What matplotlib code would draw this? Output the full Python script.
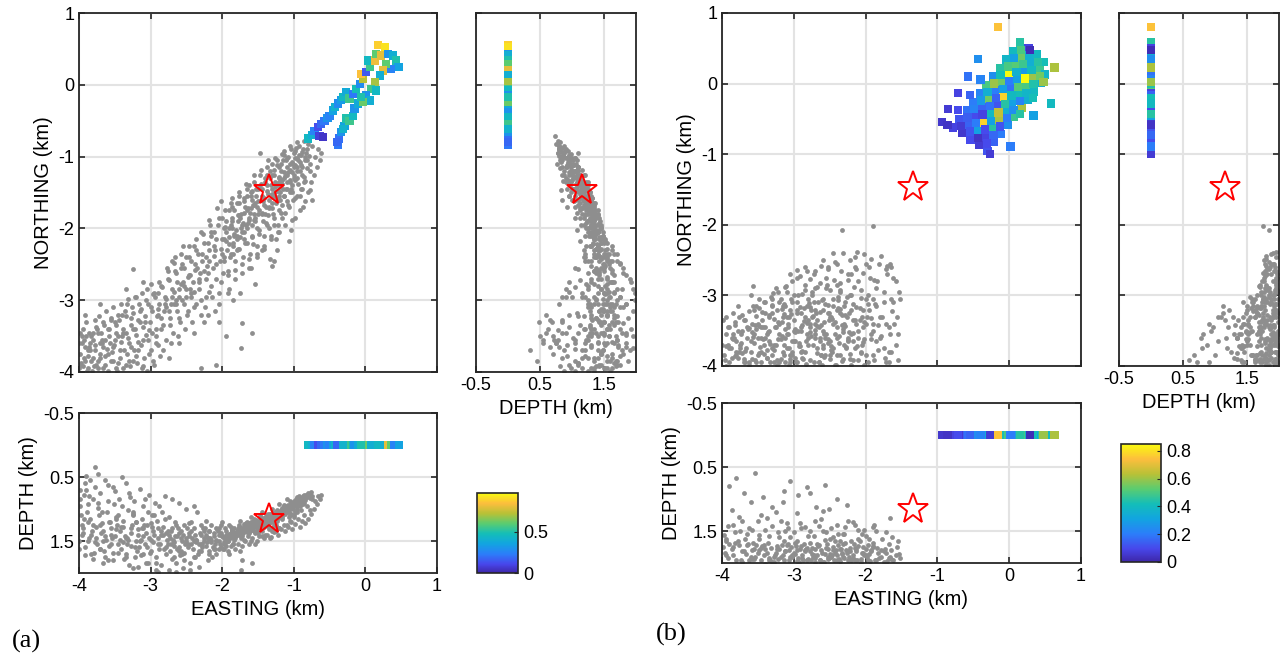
import numpy as np
import matplotlib
matplotlib.use("Agg")
import matplotlib.pyplot as plt
from matplotlib.colors import LinearSegmentedColormap

plt.rcParams['font.family'] = ['Liberation Sans', 'DejaVu Sans']
plt.rcParams['axes.unicode_minus'] = False

# ---- data: (easting, northing, depth) in km ----
# panel (a) seismicity, dense part near the star
core_a = [(-0.80,-0.82,0.75),(-0.83,-0.95,0.78),(-0.85,-1.05,0.82),(-0.87,-0.90,0.80),(-0.88,-1.15,0.84),
          (-0.90,-0.98,0.86),(-0.92,-1.20,0.88),(-0.94,-1.05,0.83),(-0.95,-1.30,0.90),(-0.97,-0.88,0.85),
          (-0.98,-1.12,0.92),(-1.00,-1.25,0.95),(-1.00,-0.95,0.88),(-1.02,-1.40,0.97),(-1.03,-1.08,0.93),
          (-1.05,-1.18,0.98),(-1.06,-1.32,1.00),(-1.08,-1.00,0.94),(-1.09,-1.45,1.02),(-1.10,-1.15,0.99),
          (-1.12,-1.27,1.03),(-1.13,-1.55,1.05),(-1.15,-1.05,0.98),(-1.16,-1.38,1.06),(-1.18,-1.20,1.04),
          (-1.19,-1.60,1.09),(-1.20,-1.30,1.07),(-1.22,-1.48,1.10),(-1.23,-1.12,1.03),(-1.25,-1.65,1.13),
          (-1.26,-1.35,1.09),(-1.28,-1.25,1.08),(-1.29,-1.55,1.14),(-1.30,-1.72,1.16),(-1.32,-1.40,1.12),
          (-1.33,-1.20,1.08),(-1.35,-1.60,1.17),(-1.36,-1.82,1.20),(-1.38,-1.48,1.15),(-1.40,-1.30,1.12),
          (-1.41,-1.68,1.19),(-1.43,-1.90,1.23),(-1.45,-1.55,1.18),(-1.46,-1.38,1.15),(-1.48,-1.75,1.22),
          (-1.50,-1.62,1.20),(-1.52,-2.00,1.27),(-1.53,-1.45,1.17),(-1.55,-1.80,1.25),(-1.57,-1.68,1.22),
          (-1.58,-2.10,1.30),(-1.60,-1.55,1.20),(-1.62,-1.88,1.28),(-1.64,-1.72,1.25),(-1.65,-2.20,1.33),
          (-1.67,-1.95,1.30),(-1.70,-1.62,1.24),(-1.72,-2.05,1.33),(-1.74,-1.80,1.29),(-1.76,-2.28,1.37),
          (-1.78,-1.90,1.32),(-1.80,-2.15,1.36),(-1.83,-1.75,1.30),(-1.85,-2.35,1.40),(-1.87,-2.00,1.35),
          (-1.90,-2.22,1.39),(-0.75,-1.60,0.85),(-0.78,-1.10,0.76),(-0.86,-1.35,0.90),(-0.90,-1.45,0.92),
          (-0.93,-0.85,0.80),(-0.96,-1.55,0.96),(-1.01,-1.60,1.00),(-1.04,-0.90,0.90),(-1.07,-1.70,1.05),
          (-1.11,-1.45,1.02),(-1.14,-0.98,0.95),(-1.17,-1.85,1.12),(-1.21,-1.75,1.12),(-1.24,-1.05,1.02),
          (-1.27,-1.95,1.18),(-1.31,-1.10,1.06),(-1.34,-2.00,1.22),(-1.37,-1.15,1.10),(-1.42,-2.10,1.26),
          (-1.47,-1.25,1.13),(-1.51,-2.25,1.30),(-1.56,-1.35,1.16),(-1.61,-2.35,1.35),(-1.66,-1.45,1.20),
          (-1.71,-2.40,1.38),(-1.77,-1.55,1.25),(-1.82,-2.45,1.42),(-1.88,-1.65,1.28),(-0.99,-1.02,0.90),
          (-1.06,-1.10,0.97),(-1.13,-1.22,1.02),(-1.19,-1.42,1.08),(-1.26,-1.50,1.12),(-1.39,-1.70,1.18),
          (-1.44,-1.45,1.14),(-1.54,-1.90,1.26),(-1.59,-1.60,1.21),(-1.69,-1.78,1.27),(-1.79,-2.10,1.34),
          (-1.86,-1.85,1.33),(-1.10,-1.35,1.25),(-1.20,-1.55,1.30),(-1.30,-1.65,1.35),(-1.40,-1.80,1.40),
          (-0.95,-1.20,1.05),(-1.05,-1.50,1.18)]
core2_a = [(-0.76,-0.71,0.74),(-0.79,-0.99,0.80),(-0.81,-1.16,0.82),(-0.84,-1.34,0.86),(-0.77,-1.47,0.83),
           (-0.86,-0.78,0.78),(-0.88,-0.93,0.85),(-0.91,-1.08,0.83),(-0.89,-1.26,0.88),(-0.92,-1.55,0.95),
           (-0.87,-1.70,0.92),(-0.96,-0.80,0.82),(-0.98,-0.92,0.89),(-1.01,-1.10,0.94),(-0.99,-1.33,0.93),
           (-1.02,-1.50,0.98),(-0.98,-1.85,1.05),(-1.04,-2.02,1.08),(-1.06,-0.85,0.88),(-1.08,-1.22,0.99),
           (-1.11,-1.05,0.96),(-1.09,-1.62,1.03),(-1.12,-1.78,1.08),(-1.07,-2.17,1.12),(-1.13,-0.92,0.93),
           (-1.16,-0.96,0.98),(-1.18,-1.10,1.02),(-1.21,-1.28,1.05),(-1.19,-1.50,1.07),(-1.22,-1.95,1.14),
           (-1.17,-1.68,1.10),(-1.24,-2.30,1.18),(-1.26,-1.02,1.04),(-1.28,-1.18,1.08),(-1.31,-1.52,1.12),
           (-1.29,-1.80,1.15),(-1.32,-2.10,1.20),(-1.27,-2.45,1.25),(-1.30,-2.52,1.30),(-1.36,-1.05,1.08),
           (-1.38,-1.25,1.12),(-1.41,-1.58,1.17),(-1.39,-1.92,1.22),(-1.42,-2.25,1.28),(-1.37,-1.40,1.14),
           (-1.46,-1.18,1.15),(-1.48,-1.42,1.19),(-1.51,-1.70,1.22),(-1.49,-2.08,1.28),(-1.52,-2.40,1.34),
           (-1.47,-0.95,1.10),(-1.53,-1.55,1.24),(-1.56,-1.25,1.20),(-1.58,-1.48,1.24),(-1.61,-1.78,1.27),
           (-1.59,-1.95,1.30),(-1.62,-2.55,1.38),(-1.57,-2.22,1.33),(-1.63,-1.40,1.22),(-1.66,-1.55,1.25),
           (-1.68,-1.70,1.30),(-1.71,-1.92,1.33),(-1.69,-2.15,1.35),(-1.72,-2.62,1.42),(-1.67,-1.38,1.22),
           (-1.76,-1.65,1.30),(-1.78,-1.82,1.34),(-1.81,-2.02,1.38),(-1.79,-2.30,1.41),(-1.82,-2.70,1.46),
           (-1.77,-1.50,1.28),(-1.86,-1.70,1.34),(-1.88,-1.95,1.38),(-1.91,-2.12,1.42),(-1.89,-2.40,1.45),
           (-1.92,-2.90,1.50),(-1.87,-1.58,1.32),(-0.82,-0.90,0.79),(-0.85,-1.00,0.83),(-0.93,-0.98,0.86),
           (-0.95,-1.15,0.90),(-1.03,-1.22,0.95),(-1.05,-1.35,0.99),(-1.14,-1.30,1.01),(-1.15,-1.45,1.04),
           (-1.23,-1.38,1.08),(-1.25,-1.58,1.12),(-1.33,-1.30,1.10),(-1.35,-1.72,1.16),(-1.43,-1.62,1.18),
           (-1.44,-1.80,1.20),(-1.54,-1.65,1.22),(-1.55,-1.88,1.26),(-1.63,-1.85,1.28),(-1.65,-2.00,1.31),
           (-1.73,-1.95,1.32),(-1.75,-2.12,1.35),(-1.84,-2.08,1.38),(-1.85,-2.25,1.40),(-1.93,-2.30,1.44),
           (-1.94,-2.05,1.40),(-1.10,-1.25,0.85),(-1.20,-1.35,0.92),(-1.30,-1.45,1.00),(-1.45,-1.60,1.05),
           (-1.60,-1.72,1.12),(-1.75,-1.85,1.18),(-1.90,-2.00,1.25),(-1.00,-1.15,1.10),(-1.25,-1.40,1.25),
           (-1.50,-1.80,1.38),(-1.70,-2.05,1.48),(-1.85,-2.20,1.55)]
# deeper half of the band near the star
core3_a = [(-0.62,-0.95,0.78),(-0.64,-1.05,0.85),(-0.66,-0.90,0.80),(-0.68,-1.15,0.92),(-0.70,-1.00,0.88),
           (-0.72,-1.25,1.00),(-0.74,-0.85,0.80),(-0.76,-1.35,1.08),(-0.78,-1.20,1.02),(-0.80,-1.50,1.15),
           (-0.82,-1.05,0.95),(-0.84,-1.62,1.22),(-0.86,-1.28,1.10),(-0.88,-1.45,1.18),(-0.90,-1.12,1.02),
           (-0.92,-1.75,1.28),(-0.94,-1.38,1.15),(-0.96,-1.02,1.00),(-0.98,-1.58,1.24),(-1.00,-1.30,1.12),
           (-1.02,-1.88,1.32),(-1.04,-1.45,1.20),(-1.06,-1.20,1.10),(-1.08,-1.68,1.28),(-1.10,-1.02,1.05),
           (-1.12,-1.95,1.35),(-1.14,-1.55,1.25),(-1.16,-1.32,1.16),(-1.18,-1.78,1.32),(-1.20,-1.15,1.10),
           (-1.22,-2.05,1.40),(-1.24,-1.62,1.30),(-1.26,-1.42,1.22),(-1.28,-1.85,1.36),(-1.30,-1.25,1.18),
           (-1.32,-2.15,1.44),(-1.34,-1.70,1.32),(-1.36,-1.52,1.26),(-1.38,-1.95,1.40),(-1.40,-1.35,1.22),
           (-1.42,-2.28,1.46),(-1.44,-1.78,1.35),(-1.46,-1.60,1.30),(-1.48,-2.02,1.42),(-1.50,-1.45,1.25),
           (-1.52,-2.35,1.50),(-1.54,-1.85,1.38),(-1.56,-1.68,1.34),(-1.58,-2.12,1.46),(-1.60,-1.50,1.28),
           (-1.62,-2.42,1.55),(-1.64,-1.92,1.42),(-1.66,-1.75,1.36),(-1.68,-2.20,1.50),(-1.70,-1.58,1.32),
           (-1.72,-2.50,1.58),(-1.74,-2.00,1.45),(-1.76,-1.82,1.40),(-1.78,-2.28,1.54),(-1.80,-1.65,1.36),
           (-1.82,-2.58,1.62),(-1.84,-2.10,1.48),(-1.86,-1.90,1.44),(-1.88,-2.35,1.58),(-1.90,-1.75,1.40),
           (-1.92,-2.65,1.66),(-1.94,-2.18,1.52),(-1.96,-1.98,1.46),(-1.98,-2.45,1.62),(-2.00,-1.85,1.42)]
mid_a = [(-1.92,-2.60,1.50),(-1.95,-1.90,1.35),(-1.97,-2.40,1.55),(-2.00,-2.15,1.42),(-2.02,-2.75,1.60),
         (-2.05,-1.85,1.30),(-2.08,-2.50,1.48),(-2.10,-2.30,1.62),(-2.12,-2.05,1.38),(-2.15,-2.80,1.52),
         (-2.18,-2.45,1.70),(-2.20,-2.20,1.45),(-2.23,-2.95,1.58),(-2.25,-2.60,1.35),(-2.28,-2.35,1.55),
         (-2.30,-2.05,1.40),(-2.33,-2.75,1.65),(-2.36,-3.05,1.48),(-2.38,-2.50,1.75),(-2.40,-2.25,1.30),
         (-2.43,-2.90,1.55),(-2.46,-2.65,1.42),(-2.48,-3.15,1.60),(-2.50,-2.40,1.50),(-2.53,-2.80,1.25),
         (-2.56,-3.00,1.70),(-2.58,-2.55,1.45),(-2.60,-3.25,1.38),(-2.63,-2.75,1.62),(-2.66,-2.40,1.20),
         (-2.68,-3.05,1.52),(-2.70,-2.85,1.78),(-2.73,-3.35,1.45),(-2.76,-2.60,1.35),(-2.78,-3.10,1.60),
         (-2.80,-2.95,1.15),(-2.18,-1.88,1.35),(-2.55,-2.25,1.40),(-2.70,-2.45,1.30),(-1.33,-2.42,1.45),
         (-1.45,-2.30,1.42),(-1.54,-2.77,1.55),(-1.60,-2.55,1.50),(-1.25,-2.15,1.35),(-1.20,-2.05,1.30),
         (-1.75,-2.90,1.65),(-1.85,-3.00,1.55),(-1.90,-2.85,1.70),(-2.05,-3.30,1.62),(-1.95,-3.50,1.58),
         (-2.20,-3.20,1.45),(-2.45,-2.85,1.95),(-2.65,-3.00,1.98)]
mid2_a = [(-1.96,-1.75,1.30),(-1.98,-2.00,1.45),(-2.01,-2.28,1.38),(-2.03,-2.45,1.55),(-1.99,-2.62,1.62),
          (-2.04,-2.90,1.50),(-2.02,-1.62,1.25),(-1.97,-2.15,1.52),(-2.05,-3.05,1.40),(-2.00,-2.35,1.20),
          (-2.06,-1.95,1.35),(-2.08,-2.15,1.50),(-2.11,-2.38,1.42),(-2.13,-2.55,1.60),(-2.09,-2.70,1.30),
          (-2.14,-2.95,1.75),(-2.07,-1.72,1.32),(-2.12,-2.25,1.62),(-2.10,-3.15,1.55),(-2.15,-2.05,1.25),
          (-2.16,-2.10,1.48),(-2.18,-2.30,1.35),(-2.21,-2.52,1.52),(-2.23,-2.70,1.40),(-2.19,-2.88,1.65),
          (-2.24,-3.10,1.30),(-2.17,-1.95,1.45),(-2.22,-2.40,1.18),(-2.20,-2.62,1.80),(-2.25,-3.30,1.50),
          (-2.26,-2.20,1.45),(-2.28,-2.45,1.60),(-2.31,-2.62,1.38),(-2.33,-2.85,1.55),(-2.29,-3.00,1.25),
          (-2.34,-2.35,1.70),(-2.27,-2.08,1.30),(-2.32,-2.70,1.90),(-2.30,-3.20,1.65),(-2.35,-2.55,1.05),
          (-2.36,-2.30,1.52),(-2.38,-2.58,1.40),(-2.41,-2.75,1.62),(-2.43,-2.95,1.35),(-2.39,-3.10,1.75),
          (-2.44,-2.45,1.20),(-2.37,-2.15,1.48),(-2.42,-3.30,1.45),(-2.40,-2.88,0.95),(-2.45,-2.65,1.85),
          (-2.46,-2.40,1.38),(-2.48,-2.68,1.55),(-2.51,-2.85,1.45),(-2.53,-3.05,1.68),(-2.49,-3.20,1.30),
          (-2.54,-2.55,1.80),(-2.47,-2.25,1.22),(-2.52,-3.40,1.55),(-2.50,-2.95,1.00),(-2.55,-2.75,1.92),
          (-2.56,-2.50,1.50),(-2.58,-2.78,1.35),(-2.61,-2.95,1.60),(-2.63,-3.15,1.42),(-2.59,-3.30,1.72),
          (-2.64,-2.62,1.25),(-2.57,-2.35,1.65),(-2.62,-3.50,1.30),(-2.60,-2.85,0.90),(-2.65,-3.05,1.85),
          (-2.66,-2.60,1.42),(-2.68,-2.88,1.58),(-2.71,-3.05,1.35),(-2.73,-3.25,1.65),(-2.69,-3.45,1.48),
          (-2.74,-2.72,1.12),(-2.67,-2.48,1.75),(-2.72,-3.60,1.55),(-2.70,-2.95,0.85),(-2.75,-3.15,1.95),
          (-2.76,-2.70,1.55),(-2.78,-2.98,1.38),(-2.81,-3.15,1.62),(-2.83,-3.35,1.28),(-2.79,-3.55,1.70),
          (-2.84,-2.82,1.05),(-2.77,-2.55,1.48),(-2.82,-3.70,1.40),(-2.80,-3.05,0.80),(-2.85,-3.25,1.88)]
tail_a = [(-2.85,-3.40,1.35),(-2.88,-2.75,0.95),(-2.90,-3.20,1.55),(-2.93,-3.60,1.85),(-2.95,-2.90,1.40),
          (-2.98,-3.45,1.10),(-3.00,-3.10,1.65),(-3.02,-3.75,1.45),(-3.05,-2.85,1.25),(-3.08,-3.30,0.85),
          (-3.10,-3.55,1.70),(-3.12,-3.95,1.30),(-3.15,-3.15,1.50),(-3.18,-3.70,1.90),(-3.20,-2.95,1.20),
          (-3.22,-3.40,1.60),(-3.25,-3.85,1.05),(-3.28,-3.25,1.38),(-3.30,-3.60,0.75),(-3.33,-3.05,1.55),
          (-3.35,-3.90,1.75),(-3.38,-3.45,1.28),(-3.40,-3.20,0.95),(-3.43,-3.70,1.48),(-3.46,-3.50,1.68),
          (-3.48,-3.95,1.15),(-3.50,-3.30,1.42),(-3.53,-3.65,0.65),(-3.55,-3.85,1.55),(-3.58,-3.40,1.20),
          (-3.60,-3.75,1.80),(-3.63,-3.55,0.55),(-3.66,-3.95,1.35),(-3.68,-3.60,1.05),(-3.70,-3.80,1.62),
          (-3.73,-3.45,0.90),(-3.76,-3.90,1.45),(-3.78,-3.70,0.35),(-3.80,-3.55,1.25),(-3.83,-3.85,1.70),
          (-3.86,-3.65,0.80),(-3.88,-3.95,1.50),(-3.90,-3.50,0.70),(-3.93,-3.80,1.15),(-3.96,-3.60,1.40),
          (-3.98,-3.90,0.95),(-3.10,-2.75,1.30),(-3.24,-2.56,1.10),(-3.35,-2.85,1.45),(-3.92,-3.20,0.60),
          (-3.70,-3.05,1.25),(-2.60,-3.60,1.65),(-2.40,-3.45,1.50),(-2.75,-3.80,1.40),(-1.73,-3.32,1.80),
          (-1.58,-3.46,1.85),(-1.74,-3.66,1.95),(-2.08,-3.90,1.70),(-2.30,-3.95,1.55),(-2.90,-2.90,1.98)]
tail2_a = [(-2.86,-2.80,1.40),(-2.88,-3.05,1.62),(-2.91,-3.22,1.18),(-2.93,-3.40,1.75),(-2.89,-3.62,1.30),
           (-2.94,-2.95,0.90),(-2.87,-3.78,1.55),(-2.92,-3.50,1.95),(-2.90,-3.12,1.45),(-2.95,-3.90,1.10),
           (-2.96,-2.92,1.52),(-2.98,-3.15,1.28),(-3.01,-3.30,1.68),(-3.03,-3.55,1.05),(-2.99,-3.70,1.48),
           (-3.04,-3.05,1.85),(-2.97,-3.85,1.35),(-3.02,-3.42,0.78),(-3.00,-2.78,1.22),(-3.05,-3.98,1.60),
           (-3.06,-3.00,1.38),(-3.08,-3.22,1.55),(-3.11,-3.38,0.95),(-3.13,-3.62,1.72),(-3.09,-3.80,1.25),
           (-3.14,-3.12,1.48),(-3.07,-3.48,1.85),(-3.12,-2.90,1.15),(-3.10,-3.92,1.42),(-3.15,-3.30,0.68),
           (-3.16,-3.05,1.60),(-3.18,-3.28,1.32),(-3.21,-3.48,1.50),(-3.23,-3.70,0.88),(-3.19,-3.88,1.65),
           (-3.24,-3.18,1.08),(-3.17,-3.58,1.40),(-3.22,-2.95,1.75),(-3.20,-3.78,1.20),(-3.25,-3.40,1.92),
           (-3.26,-3.10,1.25),(-3.28,-3.35,1.58),(-3.31,-3.52,1.02),(-3.33,-3.75,1.45),(-3.29,-3.92,0.82),
           (-3.34,-3.22,1.70),(-3.27,-3.65,1.30),(-3.32,-2.98,1.48),(-3.30,-3.85,1.88),(-3.35,-3.45,0.60),
           (-3.36,-3.15,1.42),(-3.38,-3.40,1.18),(-3.41,-3.58,1.62),(-3.43,-3.80,1.35),(-3.39,-3.95,1.52),
           (-3.44,-3.28,0.85),(-3.37,-3.70,1.78),(-3.42,-3.05,1.28),(-3.40,-3.50,0.50),(-3.45,-3.88,1.10),
           (-3.46,-3.20,1.55),(-3.48,-3.45,1.32),(-3.51,-3.62,0.92),(-3.53,-3.85,1.68),(-3.49,-3.35,1.12),
           (-3.54,-3.72,1.45),(-3.47,-3.98,1.25),(-3.52,-3.10,1.80),(-3.50,-3.55,0.72),(-3.55,-3.28,1.40),
           (-3.56,-3.25,1.30),(-3.58,-3.50,1.58),(-3.61,-3.68,1.05),(-3.63,-3.90,1.42),(-3.59,-3.40,0.62),
           (-3.64,-3.78,1.75),(-3.57,-3.60,1.20),(-3.62,-3.15,1.48),(-3.60,-3.98,0.88),(-3.65,-3.35,1.65),
           (-3.66,-3.30,1.50),(-3.68,-3.55,1.22),(-3.71,-3.75,1.62),(-3.73,-3.95,0.98),(-3.69,-3.45,1.38),
           (-3.74,-3.85,0.45),(-3.67,-3.65,1.85),(-3.72,-3.22,1.10),(-3.70,-3.60,0.75),(-3.75,-3.40,1.55),
           (-3.76,-3.38,1.28),(-3.78,-3.62,1.52),(-3.81,-3.80,0.85),(-3.83,-3.50,1.40),(-3.79,-3.92,1.68),
           (-3.84,-3.70,1.15),(-3.77,-3.28,0.65),(-3.82,-3.98,1.35),(-3.80,-3.45,1.78),(-3.85,-3.60,0.55),
           (-3.86,-3.45,1.45),(-3.88,-3.70,1.20),(-3.91,-3.85,1.60),(-3.93,-3.55,0.78),(-3.89,-3.98,1.05),
           (-3.94,-3.40,1.30),(-3.87,-3.78,0.92),(-3.92,-3.65,1.72),(-3.90,-3.30,0.48),(-3.95,-3.92,1.38),
           (-3.96,-3.50,1.25),(-3.98,-3.75,0.70),(-4.00,-3.60,1.50),(-3.97,-3.88,1.10),(-3.99,-3.45,0.85),
           (-4.00,-3.95,1.62)]

# panel (a) injection points (easting, northing, value), all at depth 0
inj_a = [(-0.80,-0.75,0.45),(-0.75,-0.70,0.40),(-0.71,-0.64,0.25),(-0.64,-0.71,0.08),(-0.59,-0.73,0.05),
         (-0.66,-0.59,0.12),(-0.62,-0.55,0.18),(-0.57,-0.50,0.22),(-0.53,-0.46,0.30),(-0.50,-0.43,0.25),
         (-0.45,-0.36,0.35),(-0.42,-0.31,0.42),(-0.38,-0.26,0.28),(-0.34,-0.21,0.33),(-0.31,-0.17,0.45),
         (-0.27,-0.10,0.38),(-0.22,-0.19,0.55),(-0.17,-0.13,0.22),(-0.13,-0.06,0.48),(-0.08,0.01,0.28),
         (-0.03,0.08,0.72),(-0.06,0.15,0.85),(0.01,0.18,0.15),(0.06,0.25,0.55),(0.04,0.34,0.45),
         (0.13,0.34,0.82),(0.18,0.55,0.88),(0.27,0.52,0.92),(0.15,0.43,0.60),(0.22,0.41,0.80),
         (0.32,0.43,0.30),(0.39,0.41,0.40),(0.43,0.34,0.50),(0.46,0.25,0.35),(0.36,0.22,0.25),
         (0.29,0.29,0.60),(0.25,0.20,0.80),(0.20,0.13,0.40),(0.13,0.04,0.70),(0.08,-0.06,0.55),
         (0.15,-0.08,0.45),(0.01,-0.15,0.30),(0.06,-0.22,0.40),
         (-0.38,-0.84,0.22),(-0.37,-0.75,0.20),(-0.34,-0.66,0.30),(-0.29,-0.57,0.35),(-0.27,-0.47,0.50),
         (-0.22,-0.50,0.55),(-0.17,-0.43,0.45),(-0.15,-0.33,0.30),(-0.10,-0.26,0.38),(-0.03,-0.24,0.62),
         (-0.06,-0.17,0.50),(-0.40,-0.80,0.18),(-0.31,-0.62,0.42)]

# panel (b) seismicity
shallow_b = [(-3.54,-3.92,0.59),(-3.80,-3.85,0.67),(-3.90,-3.75,0.80),(-2.57,-3.60,0.78),(-2.82,-3.55,0.82),
             (-3.14,-3.70,0.87),(-3.43,-3.45,0.97),(-2.77,-3.40,0.91),(-2.94,-3.50,0.94),(-2.26,-3.30,1.09),
             (-3.86,-3.60,1.17),(-3.77,-3.30,1.28),(-2.69,-3.25,1.12),(-2.51,-3.35,1.15),(-3.31,-3.15,1.12),
             (-3.05,-3.95,0.72),(-3.60,-3.65,1.05),(-2.40,-3.85,1.00),(-3.25,-3.45,1.20),(-2.95,-3.20,1.22),
             (-3.70,-3.95,0.90),(-2.60,-3.75,1.18),(-3.45,-3.80,1.25),(-3.15,-3.30,1.05)]
middle_b = [(-1.66,-3.55,1.30),(-1.63,-3.22,1.59),(-1.53,-2.95,1.86),(-1.90,-3.40,1.44),(-3.97,-3.85,1.57),
            (-2.29,-3.10,1.44),(-3.95,-3.30,1.62),(-3.57,-2.86,1.68),(-3.85,-3.55,1.40),(-3.75,-3.70,1.50),
            (-3.65,-3.45,1.55),(-3.50,-3.60,1.35),(-3.40,-3.25,1.48),(-3.30,-3.75,1.42),(-3.20,-3.10,1.60),
            (-3.10,-3.55,1.38),(-3.00,-3.35,1.52),(-2.90,-3.80,1.45),(-2.80,-3.05,1.58),(-2.70,-3.60,1.35),
            (-2.60,-3.20,1.50),(-2.50,-3.90,1.62),(-2.40,-3.45,1.40),(-2.30,-3.70,1.55),(-2.20,-3.00,1.65),
            (-2.10,-3.50,1.48),(-2.00,-3.85,1.58),(-1.95,-3.20,1.62),(-3.62,-3.95,1.45),(-3.35,-3.50,1.58),
            (-3.05,-3.85,1.60),(-2.85,-3.30,1.44),(-2.55,-3.55,1.52),(-2.35,-3.25,1.66),(-2.15,-3.75,1.40),
            (-1.85,-3.65,1.50),(-3.78,-3.15,1.65),(-3.48,-3.05,1.62),(-3.18,-3.90,1.35),(-2.98,-3.65,1.68),
            (-2.65,-3.95,1.42),(-2.45,-3.15,1.60),(-2.25,-3.60,1.35),(-2.05,-3.30,1.55),
            (-3.92,-3.70,1.42),(-3.72,-3.82,1.35),(-3.58,-3.52,1.48),(-3.38,-3.88,1.30),(-3.22,-3.62,1.52),
            (-3.08,-3.40,1.45),(-2.92,-3.72,1.38),(-2.78,-3.52,1.50),(-2.62,-3.42,1.32),(-2.48,-3.72,1.46),
            (-2.32,-3.52,1.54),(-2.18,-3.35,1.36),(-2.02,-3.62,1.48),(-1.88,-3.92,1.40),(-1.72,-3.40,1.52),
            (-3.48,-3.18,1.56),(-3.12,-3.15,1.50),(-2.72,-3.10,1.58),(-2.38,-3.02,1.55),(-3.82,-3.42,1.52)]
deep_b = [(-1.89,-2.02,1.75),(-2.33,-2.07,1.85),(-1.78,-2.44,1.80),(-1.66,-2.55,1.90),(-1.67,-3.95,1.92),
          (-2.00,-2.55,1.78),(-2.15,-2.45,1.95),(-2.25,-2.70,1.82),(-2.40,-2.55,1.88),(-2.55,-2.75,1.76),
          (-2.70,-2.65,1.92),(-2.85,-2.85,1.80),(-2.95,-2.75,1.97),(-3.10,-2.95,1.72),(-3.25,-2.90,1.85),
          (-3.40,-3.10,1.78),(-3.55,-3.20,1.93),(-3.70,-3.35,1.82),(-3.85,-3.25,1.75),(-3.95,-3.55,1.88),
          (-3.80,-3.80,1.96),(-3.65,-3.60,1.72),(-3.50,-3.85,1.84),(-3.35,-3.65,1.95),(-3.20,-3.40,1.78),
          (-3.05,-3.20,1.90),(-2.90,-3.50,1.74),(-2.75,-3.30,1.86),(-2.60,-3.05,1.98),(-2.45,-3.40,1.80),
          (-2.30,-3.15,1.92),(-2.15,-3.35,1.76),(-2.00,-3.05,1.88),(-1.85,-2.90,1.95),(-1.75,-3.10,1.82),
          (-1.70,-2.70,1.97),(-3.45,-3.45,1.76),(-3.15,-3.80,1.88),(-2.95,-3.95,1.80),(-2.80,-3.70,1.94),
          (-2.65,-3.45,1.72),(-2.50,-3.65,1.86),(-2.35,-3.85,1.78),(-2.20,-3.55,1.96),(-2.05,-3.70,1.84),
          (-1.90,-3.85,1.74),(-3.60,-3.00,1.90),(-3.30,-3.25,1.98),(-3.00,-3.00,1.84),(-2.70,-2.90,1.78),
          (-2.40,-2.85,1.95),(-2.10,-2.80,1.73),(-1.95,-2.60,1.86),(-3.90,-3.95,1.70),(-3.72,-3.50,1.98),
          (-3.42,-3.70,1.72),(-3.12,-3.60,1.82),(-2.82,-3.15,1.76),(-2.52,-3.25,1.90),(-2.22,-3.90,1.82),
          (-2.62,-3.85,1.98),(-3.28,-3.95,1.90),(-3.58,-3.40,1.80),(-2.88,-3.88,1.88)]
deep2_b = [(-1.52,-3.05,1.92),(-1.56,-3.30,1.75),(-1.58,-3.70,1.88),(-1.55,-3.92,1.65),(-1.62,-2.75,1.95),
           (-1.65,-3.05,1.80),(-1.68,-3.45,1.70),(-1.64,-3.80,1.93),(-1.72,-2.62,1.85),(-1.74,-2.95,1.98),
           (-1.77,-3.30,1.62),(-1.79,-3.58,1.90),(-1.73,-3.88,1.78),(-1.82,-2.55,1.92),(-1.84,-2.80,1.76),
           (-1.87,-3.12,1.95),(-1.89,-3.50,1.68),(-1.83,-3.78,1.85),(-1.92,-2.48,1.80),(-1.94,-2.75,1.97),
           (-1.96,-3.00,1.72),(-1.98,-3.30,1.90),(-1.93,-3.62,1.82),(-1.97,-3.95,1.95),(-2.02,-2.42,1.88),
           (-2.04,-2.68,1.75),(-2.06,-2.92,1.93),(-2.08,-3.18,1.66),(-2.03,-3.45,1.85),(-2.07,-3.80,1.98),
           (-2.12,-2.38,1.95),(-2.14,-2.62,1.82),(-2.16,-2.88,1.70),(-2.18,-3.12,1.92),(-2.13,-3.40,1.78),
           (-2.17,-3.65,1.88),(-2.11,-3.92,1.62),(-2.22,-2.50,1.76),(-2.24,-2.78,1.95),(-2.26,-3.02,1.84),
           (-2.28,-3.28,1.68),(-2.23,-3.52,1.90),(-2.27,-3.75,1.80),(-2.21,-3.98,1.96),(-2.32,-2.40,1.90),
           (-2.34,-2.65,1.78),(-2.36,-2.92,1.97),(-2.38,-3.18,1.72),(-2.33,-3.42,1.86),(-2.37,-3.68,1.94),
           (-2.31,-3.90,1.70),(-2.42,-2.52,1.84),(-2.44,-2.78,1.96),(-2.46,-3.05,1.75),(-2.48,-3.30,1.90),
           (-2.43,-3.55,1.66),(-2.47,-3.80,1.88),(-2.41,-3.98,1.80),(-2.52,-2.60,1.93),(-2.54,-2.85,1.70),
           (-2.56,-3.12,1.86),(-2.58,-3.38,1.98),(-2.53,-3.62,1.78),(-2.57,-3.85,1.64),(-2.51,-3.25,1.92),
           (-2.62,-2.58,1.80),(-2.64,-2.82,1.95),(-2.66,-3.10,1.74),(-2.68,-3.35,1.88),(-2.63,-3.60,1.96),
           (-2.67,-3.82,1.70),(-2.61,-3.98,1.85),(-2.72,-2.70,1.88),(-2.74,-2.95,1.76),(-2.76,-3.20,1.95),
           (-2.78,-3.45,1.68),(-2.73,-3.70,1.90),(-2.77,-3.92,1.82),(-2.71,-3.55,1.98),(-2.82,-2.65,1.95),
           (-2.84,-2.92,1.82),(-2.86,-3.18,1.70),(-2.88,-3.42,1.92),(-2.83,-3.65,1.78),(-2.87,-3.90,1.96),
           (-2.92,-2.72,1.78),(-2.94,-3.00,1.92),(-2.96,-3.25,1.66),(-2.98,-3.48,1.86),(-2.93,-3.72,1.98),
           (-2.97,-3.95,1.74),(-3.02,-2.80,1.90),(-3.04,-3.05,1.75),(-3.06,-3.30,1.95),(-3.08,-3.55,1.70),
           (-3.03,-3.80,1.88),(-3.07,-3.98,1.80),(-3.12,-2.88,1.82),(-3.14,-3.12,1.96),(-3.16,-3.38,1.72),
           (-3.18,-3.62,1.90),(-3.13,-3.85,1.66),(-3.22,-2.95,1.94),(-3.24,-3.20,1.78),(-3.26,-3.45,1.88),
           (-3.28,-3.70,1.98),(-3.23,-3.92,1.74),(-3.32,-3.02,1.76),(-3.34,-3.28,1.92),(-3.36,-3.52,1.68),
           (-3.38,-3.78,1.85),(-3.33,-3.95,1.95),(-3.42,-3.10,1.88),(-3.44,-3.35,1.74),(-3.46,-3.60,1.96),
           (-3.48,-3.82,1.80),(-3.52,-3.15,1.72),(-3.54,-3.42,1.90),(-3.56,-3.68,1.78),(-3.58,-3.90,1.94),
           (-3.62,-3.22,1.95),(-3.64,-3.48,1.70),(-3.66,-3.75,1.86),(-3.68,-3.95,1.62),(-3.72,-3.28,1.82),
           (-3.74,-3.55,1.96),(-3.76,-3.80,1.72),(-3.82,-3.38,1.68),(-3.84,-3.62,1.88),(-3.86,-3.88,1.78),
           (-3.92,-3.45,1.92),(-3.94,-3.72,1.65),(-3.96,-3.92,1.85),(-3.98,-3.35,1.75)]
# deeper than 2 km: only seen in map view
deeper_b = [(-3.00,-3.50,2.10),(-2.90,-3.25,2.20),(-2.80,-3.60,2.05),(-2.70,-3.40,2.30),(-2.60,-3.70,2.15),
            (-2.50,-3.30,2.25),(-2.40,-3.60,2.08),(-2.30,-3.40,2.18),(-3.10,-3.75,2.12),(-3.20,-3.55,2.28),
            (-3.30,-3.85,2.05),(-3.40,-3.60,2.22),(-3.50,-3.40,2.10),(-3.60,-3.80,2.30),(-3.70,-3.90,2.15),
            (-3.80,-3.65,2.06),(-3.90,-3.45,2.20),(-2.95,-3.10,2.14),(-2.75,-3.00,2.06),(-2.55,-2.90,2.24),
            (-2.35,-2.95,2.12),(-2.20,-3.20,2.20),(-2.10,-3.60,2.08),(-2.00,-3.40,2.26),(-1.90,-3.05,2.14),
            (-1.80,-3.30,2.05),(-3.15,-3.15,2.18),(-3.35,-3.30,2.08),(-3.55,-3.55,2.25),(-3.75,-3.75,2.12),
            (-3.05,-3.90,2.22),(-2.85,-3.80,2.10),(-2.65,-3.95,2.28),(-2.45,-3.75,2.04),(-2.25,-3.65,2.16),
            (-3.25,-3.70,2.06),(-3.45,-3.95,2.18),(-2.70,-3.20,2.12),(-2.90,-3.45,2.27),(-3.10,-3.30,2.04),
            (-2.60,-3.50,2.20),(-2.40,-3.20,2.10),(-3.00,-3.65,2.16),(-2.80,-3.35,2.08),(-3.20,-3.95,2.24),
            (-2.50,-3.85,2.14),(-3.40,-3.45,2.02),(-2.15,-2.60,2.10),(-2.45,-2.40,2.20),(-2.60,-2.50,2.05),
            (-2.85,-2.60,2.15),(-3.05,-2.70,2.25),(-3.30,-3.05,2.12),(-1.70,-2.58,2.10),(-1.65,-2.60,2.20),
            (-1.58,-2.80,2.05),(-1.60,-3.40,2.15),(-1.75,-3.75,2.08),(-1.72,-3.95,2.02),(-4.00,-3.70,2.10),
            (-3.95,-4.00,2.20)]
deeper2_b = [(-2.22,-3.00,2.10),(-2.49,-2.93,2.22),(-2.61,-3.07,2.15),(-2.88,-2.98,2.30),(-3.02,-3.09,2.08),
             (-3.29,-2.96,2.18),(-2.07,-3.04,2.12),(-2.13,-3.16,2.25),(-2.38,-3.07,2.05),(-2.52,-3.13,2.18),
             (-2.79,-3.11,2.12),(-2.91,-3.17,2.28),(-3.18,-3.05,2.15),(-3.31,-3.14,2.06),(-1.97,-3.12,2.20),
             (-2.23,-3.25,2.14),(-2.36,-3.19,2.26),(-2.64,-3.23,2.08),(-2.77,-3.17,2.20),(-3.04,-3.27,2.12),
             (-3.17,-3.19,2.32),(-3.44,-3.23,2.10),(-2.03,-3.21,2.06),(-3.57,-3.15,2.22),(-2.08,-3.35,2.18),
             (-2.33,-3.28,2.08),(-2.47,-3.34,2.24),(-2.73,-3.29,2.14),(-2.86,-3.36,2.06),(-3.13,-3.27,2.22),
             (-3.27,-3.33,2.16),(-3.53,-3.29,2.28),(-1.92,-3.32,2.12),(-3.68,-3.35,2.08),(-2.28,-3.44,2.12),
             (-2.42,-3.37,2.28),(-2.68,-3.43,2.06),(-2.82,-3.39,2.20),(-3.08,-3.45,2.14),(-3.22,-3.37,2.08),
             (-3.48,-3.43,2.24),(-2.02,-3.38,2.16),(-3.63,-3.46,2.10),(-1.83,-3.42,2.22),(-2.17,-3.53,2.06),
             (-2.32,-3.47,2.22),(-2.58,-3.55,2.14),(-2.71,-3.49,2.30),(-2.98,-3.52,2.10),(-3.12,-3.47,2.18),
             (-3.38,-3.55,2.06),(-3.52,-3.48,2.26),(-1.93,-3.54,2.12),(-3.78,-3.51,2.16),(-2.24,-3.63,2.20),
             (-2.37,-3.57,2.10),(-2.63,-3.64,2.28),(-2.76,-3.58,2.14),(-3.03,-3.65,2.06),(-3.17,-3.57,2.24),
             (-3.43,-3.62,2.12),(-3.57,-3.59,2.18),(-2.04,-3.66,2.08),(-3.83,-3.61,2.26),(-2.27,-3.73,2.14),
             (-2.53,-3.67,2.06),(-2.67,-3.74,2.22),(-2.93,-3.68,2.12),(-3.07,-3.75,2.28),(-3.33,-3.69,2.10),
             (-3.47,-3.73,2.18),(-3.73,-3.67,2.08),(-2.12,-3.71,2.24),(-3.88,-3.75,2.14),(-2.22,-3.83,2.10),
             (-2.48,-3.77,2.26),(-2.62,-3.84,2.12),(-2.88,-3.79,2.06),(-3.02,-3.85,2.20),(-3.28,-3.78,2.16),
             (-3.42,-3.83,2.28),(-3.68,-3.79,2.08),(-2.07,-3.82,2.18),(-3.82,-3.86,2.12),(-2.33,-3.93,2.22),
             (-2.58,-3.87,2.08),(-2.72,-3.94,2.16),(-2.98,-3.89,2.26),(-3.12,-3.95,2.12),(-3.38,-3.88,2.06),
             (-3.52,-3.94,2.20),(-3.78,-3.89,2.14),(-2.18,-3.91,2.10),(-2.43,-3.99,2.18),(-2.83,-3.97,2.10),
             (-3.23,-3.99,2.24),(-3.62,-3.98,2.12),(-2.02,-3.99,2.06),(-2.20,-2.70,2.12),(-2.53,-2.62,2.20),
             (-2.78,-2.77,2.08),(-3.11,-2.86,2.16),(-1.88,-2.78,2.24),(-2.36,-2.83,2.06),(-2.67,-2.88,2.28),
             (-2.96,-2.64,2.14),(-1.62,-3.10,2.12),(-1.55,-3.55,2.20),(-1.80,-3.60,2.08),(-1.68,-3.80,2.16),
             (-1.85,-3.15,2.26)]

# panel (b) injection points (easting, northing, value)
inj_b = [(-0.78,-0.62,0.08),(-0.66,-0.70,0.05),(-0.54,-0.79,0.10),(-0.42,-0.87,0.06),(-0.30,-0.95,0.12),
         (-0.69,-0.50,0.12),(-0.57,-0.58,0.15),(-0.45,-0.67,0.30),(-0.33,-0.75,0.08),(-0.21,-0.83,0.15),
         (-0.59,-0.38,0.18),(-0.47,-0.46,0.10),(-0.35,-0.55,0.78),(-0.23,-0.63,0.45),(-0.11,-0.71,0.20),
         (-0.50,-0.26,0.20),(-0.38,-0.34,0.15),(-0.26,-0.43,0.40),(-0.14,-0.51,0.62),(-0.02,-0.59,0.25),
         (-0.41,-0.14,0.22),(-0.29,-0.22,0.55),(-0.17,-0.31,0.12),(-0.05,-0.39,0.35),(0.07,-0.47,0.48),
         (-0.32,-0.02,0.50),(-0.20,-0.10,0.20),(-0.08,-0.19,0.78),(0.04,-0.27,0.30),(0.17,-0.35,0.62),
         (-0.22,0.10,0.25),(-0.10,0.02,0.55),(0.02,-0.07,0.18),(0.14,-0.15,0.42),(0.26,-0.23,0.35),
         (-0.13,0.22,0.45),(-0.01,0.14,0.85),(0.11,0.06,0.30),(0.23,-0.03,0.50),(0.35,-0.11,0.40),
         (-0.04,0.34,0.38),(0.08,0.26,0.52),(0.20,0.18,0.28),(0.32,0.09,0.60),(0.44,0.01,0.35),
         (0.06,0.46,0.40),(0.18,0.38,0.55),(0.30,0.30,0.35),(0.42,0.21,0.48),(0.50,0.13,0.38),
         (0.15,0.58,0.45),(0.27,0.50,0.08),(0.39,0.42,0.40),(0.48,0.31,0.42),
         (-0.67,-0.60,0.06),(-0.55,-0.68,0.12),(-0.43,-0.77,0.04),(-0.31,-0.85,0.10),
         (-0.58,-0.48,0.14),(-0.46,-0.56,0.20),(-0.34,-0.65,0.10),(-0.22,-0.73,0.16),
         (-0.49,-0.36,0.22),(-0.37,-0.44,0.08),(-0.25,-0.53,0.30),(-0.13,-0.61,0.12),
         (-0.39,-0.24,0.28),(-0.27,-0.32,0.18),(-0.15,-0.41,0.65),(-0.03,-0.49,0.20),
         (-0.30,-0.12,0.35),(-0.18,-0.20,0.15),(-0.06,-0.29,0.45),(0.06,-0.37,0.25),
         (-0.21,0.00,0.60),(-0.09,-0.08,0.30),(0.03,-0.17,0.40),(0.15,-0.25,0.22),
         (-0.12,0.12,0.42),(0.00,0.04,0.20),(0.12,-0.05,0.52),(0.24,-0.13,0.38),
         (-0.02,0.24,0.50),(0.10,0.16,0.36),(0.22,0.07,0.85),(0.34,-0.01,0.44),
         (0.07,0.36,0.30),(0.19,0.28,0.48),(0.31,0.19,0.40),(0.43,0.11,0.55),
         (0.16,0.48,0.50),(0.28,0.40,0.36),(0.40,0.31,0.45),
         (-0.16,0.80,0.75),(-0.43,0.35,0.25),(-0.57,0.10,0.18),(-0.40,0.06,0.22),(-0.71,-0.13,0.08),
         (-0.55,-0.16,0.15),(-0.85,-0.36,0.06),(-0.71,-0.37,0.10),(-0.94,-0.54,0.05),(-0.86,-0.59,0.04),
         (-0.27,-1.00,0.06),(0.02,-0.89,0.20),(0.34,-0.45,0.30),(0.15,-0.43,0.45),(0.33,-0.20,0.42),
         (0.58,-0.28,0.40),(0.63,0.23,0.62),(0.48,0.02,0.60),(0.29,0.48,0.02)]

inj_depth = 0.0                    # injection depth (km)
star = (-1.34, -1.46, 1.15)        # mainshock (easting, northing, depth)
vmax_a, vmax_b = 0.97, 0.85
cticks_a = [0, 0.5]
cticks_b = [0, 0.2, 0.4, 0.6, 0.8]

# parula-like colormap
parula = LinearSegmentedColormap.from_list("parula", [
    (0.000, (0.2422, 0.1504, 0.6603)), (0.111, (0.2803, 0.2782, 0.9221)),
    (0.238, (0.1707, 0.4933, 0.9784)), (0.365, (0.0709, 0.6438, 0.8803)),
    (0.492, (0.0770, 0.7439, 0.7231)), (0.619, (0.3537, 0.8003, 0.4413)),
    (0.746, (0.7225, 0.7557, 0.2135)), (0.873, (0.9907, 0.7446, 0.2394)),
    (1.000, (0.9763, 0.9831, 0.0538))])

GRAY = '#8e8e8e'
TICK_FS = 13
LABEL_FS = 14.5


def style(ax):
    ax.set_axisbelow(True)
    ax.grid(True, color='#e3e3e3', lw=1.5)
    ax.tick_params(direction='in', top=True, right=True, length=4, width=1.2,
                   labelsize=TICK_FS, color='#262626')
    for s in ax.spines.values():
        s.set_color('#262626')
        s.set_linewidth(1.3)


def draw_half(fig, gray_groups, inj, vmax, cticks, boxes, letter, letter_xy):
    pts = np.array([p for g in gray_groups for p in g])
    ge, gn, gd = pts[:, 0], pts[:, 1], pts[:, 2]
    ij = np.array(inj)
    ie, inn, iv = ij[:, 0], ij[:, 1], ij[:, 2]
    idp = np.full(len(ij), inj_depth)

    W, H = 1281.0, 664.0
    def rect(b):
        x0, y0, x1, y1 = b
        return [x0 / W, 1 - y1 / H, (x1 - x0) / W, (y1 - y0) / H]

    ax_map = fig.add_axes(rect(boxes[0]))
    ax_dep = fig.add_axes(rect(boxes[1]))
    ax_crs = fig.add_axes(rect(boxes[2]))
    cax = fig.add_axes(rect(boxes[3]))

    kw_g = dict(s=12, c=GRAY, linewidths=0, zorder=2)
    kw_c = dict(s=36, marker='s', cmap=parula, vmin=0, vmax=vmax, linewidths=0, zorder=3)
    kw_s = dict(marker='*', ms=23, mfc='none', mec='red', mew=1.4, ls='none', zorder=4)

    # map view
    ax_map.scatter(ge, gn, **kw_g)
    sc = ax_map.scatter(ie, inn, c=iv, **kw_c)
    ax_map.plot(star[0], star[1], **kw_s)
    ax_map.set_xlim(-4, 1)
    ax_map.set_ylim(-4, 1)
    ax_map.set_xticks([-4, -3, -2, -1, 0, 1])
    ax_map.set_xticklabels([])
    ax_map.set_yticks([-4, -3, -2, -1, 0, 1])
    ax_map.set_ylabel('NORTHING (km)', fontsize=LABEL_FS)
    style(ax_map)

    # depth vs northing
    ax_dep.scatter(gd, gn, **kw_g)
    ax_dep.scatter(idp, inn, c=iv, **kw_c)
    ax_dep.plot(star[2], star[1], **kw_s)
    ax_dep.set_xlim(-0.5, 2)
    ax_dep.set_ylim(-4, 1)
    ax_dep.set_xticks([-0.5, 0.5, 1.5])
    ax_dep.set_xticklabels(['-0.5', '0.5', '1.5'])
    ax_dep.set_yticks([-4, -3, -2, -1, 0, 1])
    ax_dep.set_yticklabels([])
    ax_dep.set_xlabel('DEPTH (km)', fontsize=LABEL_FS)
    style(ax_dep)

    # easting vs depth
    ax_crs.scatter(ge, gd, **kw_g)
    ax_crs.scatter(ie, idp, c=iv, **kw_c)
    ax_crs.plot(star[0], star[2], **kw_s)
    ax_crs.set_xlim(-4, 1)
    ax_crs.set_ylim(2, -0.5)
    ax_crs.set_xticks([-4, -3, -2, -1, 0, 1])
    ax_crs.set_yticks([-0.5, 0.5, 1.5])
    ax_crs.set_yticklabels(['-0.5', '0.5', '1.5'])
    ax_crs.set_xlabel('EASTING (km)', fontsize=LABEL_FS)
    ax_crs.set_ylabel('DEPTH (km)', fontsize=LABEL_FS)
    style(ax_crs)

    cb = fig.colorbar(sc, cax=cax, ticks=cticks)
    cb.ax.tick_params(direction='in', length=3, labelsize=TICK_FS, color='#262626')
    cb.ax.set_yticklabels([('%g' % t) for t in cticks])
    cb.outline.set_edgecolor('#262626')
    cb.outline.set_linewidth(1.2)

    fig.text(letter_xy[0] / W, 1 - letter_xy[1] / H, letter, fontsize=19,
             family=['Liberation Serif', 'DejaVu Serif'], ha='center', va='center')


fig = plt.figure(figsize=(12.81, 6.64), dpi=100)

draw_half(fig, [core_a, core2_a, core3_a, mid_a, mid2_a, tail_a, tail2_a], inj_a, vmax_a, cticks_a,
          [(79, 13, 437, 372), (476, 13, 636, 372), (79, 413, 437, 573), (477, 493, 518, 573)],
          '(a)', (26, 641))
draw_half(fig, [shallow_b, middle_b, deep_b, deep2_b, deeper_b, deeper2_b], inj_b, vmax_b, cticks_b,
          [(722, 13, 1081, 366), (1119, 13, 1279, 366), (722, 403, 1081, 563), (1121, 444, 1161, 562)],
          '(b)', (671, 634))

fig.savefig('out.png', dpi=100)
